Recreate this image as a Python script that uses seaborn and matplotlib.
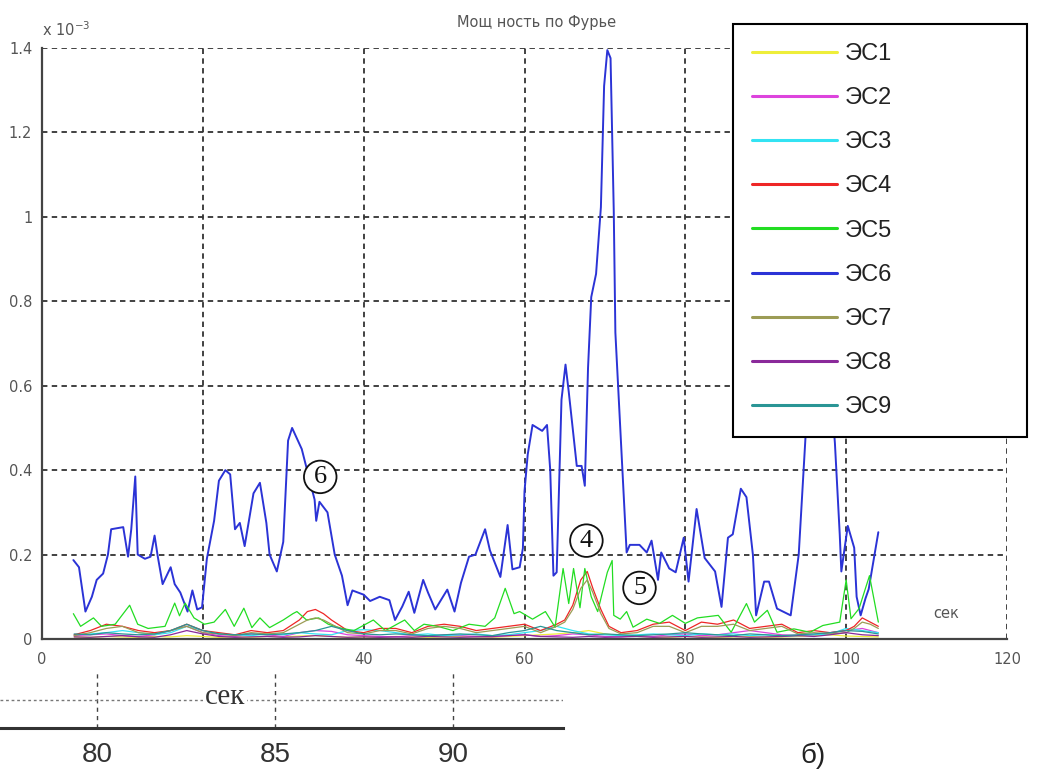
import numpy as np
import pandas as pd
import matplotlib
matplotlib.use("Agg")
import matplotlib.pyplot as plt
from matplotlib.lines import Line2D
import seaborn as sns

# ---------------- data (values in units of 1e-3) ----------------
names = ["ЭС1", "ЭС2", "ЭС3", "ЭС4", "ЭС5", "ЭС6", "ЭС7", "ЭС8", "ЭС9"]
colors = ["#eeee3a", "#dd44dd", "#33e3f3", "#ee2626", "#22dd22",
          "#2b33d6", "#9c9c55", "#8a2a9a", "#2a9595"]

# ЭС6 (blue)
t6 = [3.9, 4.6, 5.4, 6.2, 6.8, 7.6, 8.2, 8.6, 10.1, 10.7,
      11.1, 11.6, 11.9, 12.8, 13.5, 14.0, 14.4, 15.0, 16.0, 16.5,
      17.2, 18.1, 18.7, 19.3, 19.9, 20.5, 21.4, 22.0, 22.8, 23.4,
      24.0, 24.6, 25.2, 26.3, 27.1, 27.9, 28.3, 29.2, 30.0, 30.6,
      31.1, 32.3, 33.9, 34.1, 34.5, 35.5, 36.4, 37.3, 38.0, 38.6,
      40.0, 40.8, 42.0, 43.2, 43.9, 44.8, 45.6, 46.3, 47.4, 48.0,
      48.9, 50.4, 51.3, 52.1, 53.1, 53.9, 55.1, 55.7, 57.0, 57.9,
      58.5, 59.4, 59.8, 60.0, 60.4, 61.0, 62.2, 62.8, 63.2, 63.6,
      64.0, 64.6, 65.1, 65.5, 66.5, 67.1, 67.5, 67.9, 68.3, 68.9,
      69.5, 69.9, 70.3, 70.7, 71.1, 71.3, 72.1, 72.7, 73.1, 74.3,
      75.2, 75.8, 76.2, 76.6, 77.0, 78.0, 78.8, 79.8, 80.4, 81.4,
      82.4, 83.7, 84.5, 85.3, 85.9, 86.9, 87.6, 88.4, 88.8, 89.8,
      90.4, 91.4, 93.1, 94.1, 94.9, 95.6, 97.6, 98.6, 99.2, 99.4,
      100.2, 101.0, 101.3, 101.8, 102.4, 102.8, 104.0]
es6 = [0.187, 0.17, 0.065, 0.10, 0.14, 0.155, 0.20, 0.26, 0.265, 0.195,
       0.26, 0.385, 0.20, 0.19, 0.195, 0.245, 0.195, 0.13, 0.17, 0.13,
       0.11, 0.065, 0.115, 0.07, 0.075, 0.19, 0.28, 0.375, 0.40, 0.39,
       0.26, 0.275, 0.22, 0.345, 0.37, 0.275, 0.20, 0.16, 0.23, 0.47,
       0.50, 0.45, 0.33, 0.28, 0.325, 0.30, 0.20, 0.15, 0.08, 0.115,
       0.105, 0.09, 0.10, 0.092, 0.045, 0.077, 0.112, 0.062, 0.14, 0.11,
       0.07, 0.117, 0.065, 0.133, 0.195, 0.20, 0.26, 0.21, 0.147, 0.27,
       0.165, 0.17, 0.215, 0.35, 0.437, 0.507, 0.493, 0.507, 0.40, 0.15,
       0.158, 0.567, 0.65, 0.586, 0.41, 0.41, 0.363, 0.642, 0.81, 0.865,
       1.023, 1.31, 1.395, 1.376, 1.014, 0.726, 0.428, 0.205, 0.223, 0.223,
       0.205, 0.233, 0.186, 0.14, 0.205, 0.167, 0.158, 0.24, 0.136, 0.308,
       0.192, 0.16, 0.076, 0.24, 0.248, 0.356, 0.336, 0.20, 0.056, 0.136,
       0.136, 0.072, 0.056, 0.20, 0.464, 0.70, 0.72, 0.464, 0.248, 0.16,
       0.268, 0.216, 0.10, 0.056, 0.096, 0.118, 0.253]

# ЭС5 (green)
t5 = [3.9, 4.8, 6.4, 7.4, 9.1, 10.9, 11.9, 13.2, 15.3, 16.5,
      17.1, 17.8, 18.9, 20.2, 21.4, 22.8, 23.9, 25.1, 26.1, 27.1,
      28.3, 30.0, 31.2, 31.7, 32.9, 34.4, 35.6, 37.3, 38.8, 41.2,
      42.7, 45.1, 46.3, 47.5, 49.2, 51.1, 53.1, 55.1, 56.3, 57.6,
      58.7, 59.4, 61.0, 62.6, 63.8, 64.8, 65.5, 66.1, 66.9, 67.5,
      68.3, 69.1, 70.3, 70.9, 71.1, 71.9, 72.7, 73.5, 75.2, 76.8,
      78.4, 80.0, 81.5, 84.1, 85.7, 87.6, 88.6, 90.2, 91.4, 93.5,
      95.5, 97.1, 99.2, 100.0, 100.6, 101.6, 102.9, 104.0]
es5 = [0.06, 0.03, 0.05, 0.03, 0.035, 0.08, 0.035, 0.025, 0.03, 0.085,
       0.055, 0.085, 0.05, 0.035, 0.04, 0.07, 0.03, 0.073, 0.027, 0.05,
       0.027, 0.045, 0.06, 0.065, 0.045, 0.05, 0.035, 0.025, 0.02, 0.045,
       0.02, 0.045, 0.02, 0.035, 0.03, 0.02, 0.035, 0.03, 0.05, 0.12,
       0.06, 0.065, 0.047, 0.065, 0.028, 0.167, 0.084, 0.167, 0.074, 0.167,
       0.10, 0.065, 0.158, 0.186, 0.056, 0.047, 0.065, 0.028, 0.047, 0.037,
       0.056, 0.037, 0.05, 0.056, 0.016, 0.084, 0.04, 0.068, 0.016, 0.024,
       0.016, 0.032, 0.04, 0.14, 0.048, 0.072, 0.15, 0.04]

# ЭС4 (red) and ЭС7 (olive)
t47 = [4, 6, 8, 10, 12, 14, 16, 18, 20, 22,
       24, 26, 28, 30, 32, 33, 34, 35, 36, 38,
       40, 42, 44, 46, 48, 50, 52, 54, 56, 58,
       60, 62, 64, 65, 66, 67, 67.8, 68.5, 69.5, 70.5,
       72, 74, 76, 78, 80, 82, 84, 86, 88, 90,
       92, 94, 96, 98, 100, 101, 102, 103, 104]
es4 = [0.01, 0.02, 0.035, 0.03, 0.02, 0.015, 0.02, 0.035, 0.02, 0.015,
       0.01, 0.02, 0.015, 0.02, 0.045, 0.065, 0.07, 0.06, 0.045, 0.02,
       0.015, 0.025, 0.025, 0.015, 0.03, 0.035, 0.03, 0.02, 0.025, 0.03,
       0.035, 0.02, 0.035, 0.045, 0.08, 0.14, 0.16, 0.12, 0.07, 0.03,
       0.015, 0.02, 0.035, 0.04, 0.02, 0.04, 0.035, 0.045, 0.025, 0.03,
       0.035, 0.015, 0.02, 0.015, 0.02, 0.03, 0.05, 0.04, 0.03]
es7 = [0.008, 0.015, 0.025, 0.03, 0.015, 0.012, 0.02, 0.03, 0.015, 0.012,
       0.008, 0.015, 0.012, 0.015, 0.035, 0.045, 0.05, 0.045, 0.035, 0.015,
       0.012, 0.02, 0.02, 0.012, 0.025, 0.03, 0.025, 0.015, 0.02, 0.025,
       0.03, 0.015, 0.03, 0.04, 0.07, 0.12, 0.14, 0.11, 0.06, 0.025,
       0.012, 0.015, 0.03, 0.03, 0.015, 0.03, 0.03, 0.035, 0.02, 0.025,
       0.03, 0.012, 0.015, 0.012, 0.015, 0.025, 0.04, 0.035, 0.025]

# ЭС1, ЭС2, ЭС3, ЭС8, ЭС9 (near zero), every 2 s
t2 = [4, 6, 8, 10, 12, 14, 16, 18, 20, 22,
      24, 26, 28, 30, 32, 34, 36, 38, 40, 42,
      44, 46, 48, 50, 52, 54, 56, 58, 60, 62,
      64, 66, 68, 70, 72, 74, 76, 78, 80, 82,
      84, 86, 88, 90, 92, 94, 96, 98, 100, 102,
      104]
es1 = [0.005, 0.004, 0.006, 0.005, 0.004, 0.006, 0.005, 0.008, 0.006, 0.004,
       0.005, 0.004, 0.006, 0.005, 0.007, 0.008, 0.006, 0.004, 0.005, 0.004,
       0.006, 0.005, 0.004, 0.005, 0.006, 0.005, 0.004, 0.006, 0.008, 0.01,
       0.012, 0.015, 0.02, 0.012, 0.008, 0.006, 0.005, 0.004, 0.006, 0.005,
       0.004, 0.005, 0.006, 0.004, 0.005, 0.006, 0.008, 0.01, 0.007, 0.006,
       0.005]
es2 = [0.008, 0.01, 0.012, 0.008, 0.006, 0.01, 0.02, 0.03, 0.015, 0.008,
       0.006, 0.012, 0.01, 0.006, 0.015, 0.02, 0.018, 0.01, 0.008, 0.006,
       0.005, 0.008, 0.006, 0.01, 0.008, 0.006, 0.005, 0.008, 0.01, 0.006,
       0.008, 0.012, 0.01, 0.006, 0.005, 0.008, 0.006, 0.01, 0.012, 0.008,
       0.01, 0.015, 0.02, 0.015, 0.01, 0.008, 0.01, 0.015, 0.02, 0.025,
       0.015]
es3 = [0.01, 0.012, 0.015, 0.02, 0.015, 0.01, 0.015, 0.03, 0.02, 0.012,
       0.01, 0.008, 0.012, 0.01, 0.015, 0.012, 0.01, 0.02, 0.022, 0.02,
       0.015, 0.01, 0.012, 0.008, 0.01, 0.012, 0.008, 0.01, 0.015, 0.02,
       0.03, 0.02, 0.012, 0.01, 0.008, 0.01, 0.012, 0.01, 0.008, 0.012,
       0.01, 0.012, 0.008, 0.01, 0.006, 0.008, 0.01, 0.012, 0.025, 0.02,
       0.015]
es8 = [0.005, 0.004, 0.006, 0.008, 0.005, 0.004, 0.01, 0.02, 0.012, 0.006,
       0.004, 0.005, 0.006, 0.004, 0.005, 0.008, 0.006, 0.004, 0.005, 0.004,
       0.005, 0.004, 0.006, 0.005, 0.004, 0.005, 0.006, 0.008, 0.01, 0.006,
       0.005, 0.004, 0.006, 0.004, 0.005, 0.006, 0.004, 0.005, 0.006, 0.004,
       0.005, 0.006, 0.004, 0.005, 0.006, 0.008, 0.006, 0.01, 0.015, 0.01,
       0.008]
es9 = [0.012, 0.01, 0.015, 0.012, 0.01, 0.012, 0.02, 0.035, 0.02, 0.012,
       0.01, 0.012, 0.01, 0.012, 0.015, 0.02, 0.03, 0.02, 0.012, 0.01,
       0.012, 0.01, 0.008, 0.01, 0.012, 0.01, 0.008, 0.015, 0.02, 0.03,
       0.02, 0.015, 0.01, 0.012, 0.01, 0.008, 0.01, 0.012, 0.015, 0.012,
       0.01, 0.008, 0.012, 0.01, 0.008, 0.01, 0.012, 0.015, 0.02, 0.018,
       0.012]

# circled annotations
circle_labels = ["6", "4", "5"]
circle_t = [34.6, 67.7, 74.3]
circle_v = [0.384, 0.233, 0.121]

# bottom fragment of a second axis
frag_ticks = [80, 85, 90]

# ---------------- build long table ----------------
series = {
    "ЭС1": (t2, es1), "ЭС2": (t2, es2), "ЭС3": (t2, es3),
    "ЭС4": (t47, es4), "ЭС5": (t5, es5), "ЭС6": (t6, es6),
    "ЭС7": (t47, es7), "ЭС8": (t2, es8), "ЭС9": (t2, es9),
}
frames = []
for n in names:
    tt, vv = series[n]
    frames.append(pd.DataFrame({"t": tt, "v": vv, "series": n}))
df = pd.concat(frames, ignore_index=True)
palette = dict(zip(names, colors))
minor = [n for n in names if n != "ЭС6"]

# ---------------- figure ----------------
sns.set_theme(style="white")
plt.rcParams["font.family"] = ["DejaVu Sans"]
plt.rcParams["mathtext.default"] = "regular"

W, H = 1047, 775
fig = plt.figure(figsize=(W / 100, H / 100), dpi=100)
fig.patch.set_facecolor("white")

ax = fig.add_axes([42 / W, 1 - 639 / H, (1007 - 42) / W, (639 - 48) / H])
ax.set_facecolor("white")

sns.lineplot(data=df[df.series == "ЭС6"], x="t", y="v", hue="series",
             palette=palette, estimator=None, sort=False, linewidth=1.4,
             legend=False, ax=ax)
sns.lineplot(data=df[df.series != "ЭС6"], x="t", y="v", hue="series",
             hue_order=minor, palette=palette, estimator=None, sort=False,
             linewidth=0.9, legend=False, ax=ax)

ax.set_xlim(0, 120)
ax.set_ylim(0, 1.4)
ax.set_xticks(range(0, 121, 20))
yt = [0, 0.2, 0.4, 0.6, 0.8, 1.0, 1.2, 1.4]
ax.set_yticks(yt)
ax.set_yticklabels(["0", "0.2", "0.4", "0.6", "0.8", "1", "1.2", "1.4"])
ax.set_xlabel("")
ax.set_ylabel("")
ax.grid(True, color="#333333", linestyle=(0, (3, 2.4)), linewidth=1.3)
ax.set_axisbelow(True)
for s in ["top", "right"]:
    ax.spines[s].set_visible(False)
for s in ["left", "bottom"]:
    ax.spines[s].set_color("#444444")
    ax.spines[s].set_linewidth(1.6)
ax.tick_params(direction="in", length=4, width=1, color="#444444",
               labelcolor="#555555", labelsize=10.5)
ax.tick_params(axis="x", pad=9)
ax.tick_params(axis="y", pad=7)

for lab, tt, vv in zip(circle_labels, circle_t, circle_v):
    ax.text(tt, vv, lab, ha="center", va="center", fontsize=19,
            family="Liberation Serif", color="#111111", zorder=6,
            bbox=dict(boxstyle="circle,pad=0.2", fc="white", ec="#111111", lw=1.3))

handles = [Line2D([0], [0], color=palette[n], lw=2.2) for n in names]
leg = ax.legend(handles, names, loc="upper left",
                bbox_to_anchor=(733 / W, 1 - 437 / H, (1027 - 733) / W, (437 - 24) / H),
                bbox_transform=fig.transFigure, mode="expand", borderaxespad=0,
                prop={"family": "Liberation Sans", "size": 17},
                handlelength=3.6, handletextpad=0.35, labelspacing=0.94,
                borderpad=0.8, frameon=True, fancybox=False, framealpha=1,
                edgecolor="black", facecolor="white")
leg.get_frame().set_linewidth(1.5)
leg.set_zorder(10)
for txt in leg.get_texts():
    txt.set_color("#222222")

fig.text(537 / W, 1 - 22 / H, "Мощ ность по Фурье", ha="center", va="center",
         fontsize=10.5, color="#555555")
fig.text(42 / W, 1 - 30 / H, r"x 10$^{-3}$", ha="left", va="center",
         fontsize=10.5, color="#555555")
fig.text(946 / W, 1 - 614 / H, "сек", ha="center", va="center",
         fontsize=10.5, color="#555555")

# ---------------- bottom fragment ----------------
axb = fig.add_axes([0, 1 - 728 / H, 563 / W, 58 / H])
axb.set_facecolor("none")
axb.set_xlim(77.28, 93.09)
axb.set_ylim(0, 1)
axb.set_xticks(frag_ticks)
axb.set_yticks([0.48])
axb.set_yticklabels([])
axb.tick_params(axis="y", length=0)
axb.tick_params(axis="x", direction="in", length=20, width=1.2, color="#333333",
                labelsize=20, labelcolor="#333333", pad=10)
for lbl in axb.get_xticklabels():
    lbl.set_family("Liberation Sans")
for s in ["top", "right", "left"]:
    axb.spines[s].set_visible(False)
axb.spines["bottom"].set_color("#333333")
axb.spines["bottom"].set_linewidth(2.2)
axb.grid(True, axis="x", color="#444444", linestyle=(0, (3, 3)), linewidth=1.0)
axb.grid(True, axis="y", color="#777777", linestyle=(0, (2, 2)), linewidth=1.0)
axb.text(83.6, 0.53, "сек", ha="center", va="center", fontsize=21,
         family="Liberation Serif", color="#333333",
         bbox=dict(boxstyle="square,pad=0.05", fc="white", ec="none"))

fig.text(813 / W, 1 - 756 / H, "б)", ha="center", va="center", fontsize=20,
         family="Liberation Sans", color="#222222")

fig.savefig("out.png", dpi=100)
